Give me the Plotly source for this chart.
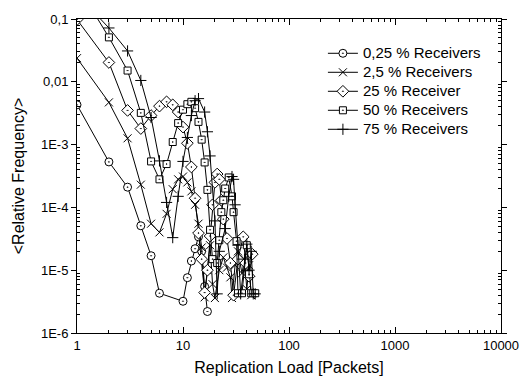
import plotly.graph_objects as go

# Replication load (packets) and mean relative frequency per receiver fraction
x_025 = [1, 2, 3, 4, 5, 6, 10, 11, 12, 13, 14, 15, 16, 17]
y_025 = [4.3e-3, 5.3e-4, 2.1e-4, 5.1e-5, 1.7e-5, 4.3e-6, 3.2e-6, 7.6e-6,
         1.4e-5, 2.2e-5, 3.4e-5, 2.0e-5, 5.5e-6, 2.2e-6]

x_25p = [1, 2, 3, 4, 5, 6, 7, 8, 9, 10, 11, 12, 13, 14, 15, 16, 17, 18, 19,
         20, 22, 24, 26, 28, 29, 31, 33, 36, 38, 40, 42, 44]
y_25p = [0.0238, 4.7e-3, 1.26e-3, 2.3e-4, 5.5e-5, 4.0e-5, 7.9e-5, 1.95e-4,
         2.8e-4, 3.1e-4, 2.5e-4, 1.8e-4, 1.1e-4, 5.5e-5, 2.3e-5, 3.7e-6,
         1.0e-5, 2.5e-5, 6.0e-6, 3.6e-6, 1.0e-5, 1.6e-5, 1.1e-5, 7.7e-6,
         3.6e-6, 1.2e-5, 2.0e-5, 8.9e-6, 1.5e-5, 5.0e-6, 1.2e-5, 4.0e-6]

x_25 = [1, 2, 3, 4, 5, 6, 7, 8, 9, 10, 11, 12, 13, 14, 15, 16, 17, 18, 19,
        20, 21, 22, 23, 24, 26, 28, 30, 33, 37, 39, 42, 45]
y_25 = [0.098, 0.0203, 3.5e-3, 1.8e-3, 2.9e-3, 4.1e-3, 4.8e-3, 4.3e-3,
        3.3e-3, 1.9e-3, 1.05e-3, 4.4e-4, 1.4e-4, 3.9e-5, 1.5e-5, 4.4e-6,
        1.0e-5, 3.5e-5, 1.1e-4, 2.5e-4, 3.4e-4, 2.8e-4, 1.3e-4, 6.5e-5,
        3.2e-5, 1.3e-5, 4.0e-6, 1.5e-5, 3.4e-5, 1.3e-5, 8.0e-6, 1.8e-5]

x_50 = [1, 2, 3, 4, 5, 6, 7, 8, 9, 10, 11, 12, 13, 14, 15, 16, 17, 18, 19,
        21, 22, 23, 24, 25, 27, 29, 30, 32, 33, 36, 40, 42, 44, 46, 48]
y_50 = [0.35, 0.051, 0.0151, 3.2e-3, 5.4e-4, 2.8e-4, 4.9e-4, 1.1e-3,
        2.2e-3, 3.6e-3, 4.4e-3, 4.8e-3, 3.8e-3, 2.3e-3, 1.2e-3, 5.2e-4,
        1.9e-4, 4.4e-5, 1.5e-5, 1.3e-5, 3.0e-5, 8.4e-5, 1.3e-4, 2.0e-4,
        3.0e-4, 1.5e-4, 8.4e-5, 2.9e-5, 4.3e-6, 4.3e-6, 2.5e-5, 8.6e-6,
        4.3e-6, 4.3e-6, 4.3e-6]

x_75 = [1, 2, 3, 4, 5, 6, 7, 8, 9, 10, 11, 12, 13, 14, 16, 17, 18, 20, 21,
        22, 25, 27, 29, 30, 31, 33, 35, 38, 40, 42, 44, 46, 48]
y_75 = [0.25, 0.072, 0.031, 0.0105, 2.7e-3, 5.5e-4, 1.2e-4, 3.3e-5,
        1.5e-4, 5.4e-4, 1.3e-3, 2.9e-3, 5.0e-3, 5.4e-3, 3.3e-3, 1.6e-3,
        6.6e-4, 6.1e-5, 4.2e-6, 2.0e-5, 4.6e-5, 1.5e-4, 3.1e-4, 2.8e-4,
        1.1e-4, 2.5e-5, 4.2e-6, 1.5e-5, 2.6e-5, 1.0e-5, 2.0e-5, 4.2e-6,
        4.2e-6]

series_names = ["0,25 % Receivers", "2,5 % Receivers", "25 % Receiver",
                "50 % Receivers", "75 % Receivers"]

x_tick_vals = [1, 10, 100, 1000, 10000]
x_tick_text = ["1", "10", "100", "1000", "10000"]
y_tick_vals = [0.1, 0.01, 1e-3, 1e-4, 1e-5, 1e-6]
y_tick_text = ["0,1", "0,01", "1E-3", "1E-4", "1E-5", "1E-6"]

x_minor = [m * 10 ** k for k in range(0, 4) for m in range(2, 10)]
y_minor = [m * 10.0 ** k for k in range(-6, -1) for m in range(2, 10)]

# (x, y, symbol, size, fill colour) — open symbols take their stroke from the colour
series = [
    (x_025, y_025, "circle-dot", 8, "white"),
    (x_25p, y_25p, "x-thin-open", 8, "black"),
    (x_25, y_25, "diamond-dot", 9, "white"),
    (x_50, y_50, "square-dot", 7, "white"),
    (x_75, y_75, "cross-thin-open", 8, "black"),
]

FAMILY = "Liberation Sans, Arial, sans-serif"

fig = go.Figure()
for (xs, ys, sym, size, col), name in zip(series, series_names):
    fig.add_trace(go.Scatter(
        x=xs, y=ys,
        name='<span style="font-size:15px">' + name + "</span>",
        mode="lines+markers",
        line=dict(color="black", width=1),
        marker=dict(symbol=sym, size=size, color=col,
                    line=dict(color="black", width=1)),
    ))

fig.update_layout(
    width=531, height=390,
    margin=dict(l=77, r=22, t=14, b=57),
    paper_bgcolor="white", plot_bgcolor="white",
    font=dict(family=FAMILY, size=13, color="black"),
    showlegend=True,
    legend=dict(x=0.58, y=0.937, xanchor="left", yanchor="top",
                bgcolor="rgba(0,0,0,0)", borderwidth=0,
                font=dict(family=FAMILY, size=11, color="black"),
                itemwidth=30, tracegroupgap=0),
    xaxis=dict(
        type="log", range=[0, 4],
        tickmode="array", tickvals=x_tick_vals, ticktext=x_tick_text,
        ticks="inside", ticklen=6, tickwidth=1, tickcolor="black",
        showline=True, linecolor="black", linewidth=1, mirror="allticks",
        showgrid=False, zeroline=False,
        minor=dict(tickmode="array", tickvals=x_minor, ticks="inside",
                   ticklen=3, tickcolor="black", showgrid=False),
        title=dict(text="Replication Load [Packets]", standoff=10),
    ),
    yaxis=dict(
        type="log", range=[-6, -1],
        tickmode="array", tickvals=y_tick_vals, ticktext=y_tick_text,
        ticks="outside", ticklen=5, tickwidth=1, tickcolor="black",
        showline=True, linecolor="black", linewidth=1, mirror="allticks",
        showgrid=False, zeroline=False,
        minor=dict(tickmode="array", tickvals=y_minor, ticks="inside",
                   ticklen=3, tickcolor="black", showgrid=False),
        title=dict(text="&lt;Relative Frequency&gt;", standoff=12),
    ),
)

fig.write_html("out.html")
